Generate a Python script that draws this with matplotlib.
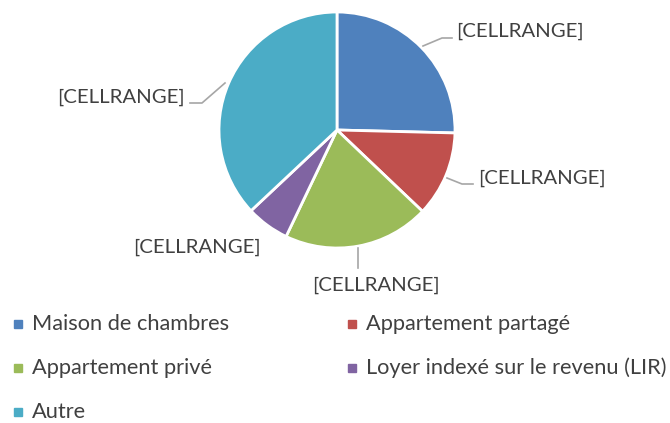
import matplotlib.pyplot as plt
from matplotlib.patches import Rectangle

categories = ['Maison de chambres', 'Appartement partagé', 'Appartement privé',
              'Loyer indexé sur le revenu (LIR)', 'Autre']
values = [25.4, 11.7, 20.0, 5.9, 37.0]
colors = ['#4F81BD', '#C0504D', '#9BBB59', '#8064A2', '#4BACC6']
label_text = '[CELLRANGE]'

W, H = 670, 423
fig = plt.figure(figsize=(W / 100, H / 100), dpi=100)
ax = fig.add_axes([0, 0, 1, 1])

cx, cy, r = 337, H - 130, 118
ax.pie(values, colors=colors, startangle=90, counterclock=False,
       center=(cx, cy), radius=r,
       wedgeprops=dict(edgecolor='white', linewidth=2))
ax.set_xlim(0, W)
ax.set_ylim(0, H)
ax.set_aspect('equal')
ax.axis('off')

lc = '#A6A6A6'
tcol = '#404040'

def P(x, y):
    return x, H - y

# data labels with leader lines (pixel positions from the top-left)
labels = [
    (456, 31, 'left', [(423, 46), (442, 38), (452, 38)]),
    (478, 178, 'left', [(447, 178), (462, 184), (473, 184)]),
    (376, 285, 'center', [(358, 248), (358, 268)]),
    (197, 247, 'center', []),
    (185, 97, 'right', [(225, 83), (202, 103), (190, 103)]),
]
for tx, ty, ha, pts in labels:
    ax.text(*P(tx, ty), label_text, ha=ha, va='center',
            fontsize=14.7, color=tcol, family='Lato')
    if pts:
        xs = [p[0] for p in pts]
        ys = [H - p[1] for p in pts]
        ax.plot(xs, ys, color=lc, lw=1.2)

# legend
col_x = [18, 352]
row_y = [324, 368, 412]
for i, (name, c) in enumerate(zip(categories, colors)):
    x = col_x[i % 2]
    y = row_y[i // 2]
    ax.add_patch(Rectangle((x - 4, H - y - 4), 8, 8, color=c))
    ax.text(x + 14, H - y, name, ha='left', va='center',
            fontsize=15.7, color=tcol, family='Lato')

fig.savefig('out.png', dpi=100)
